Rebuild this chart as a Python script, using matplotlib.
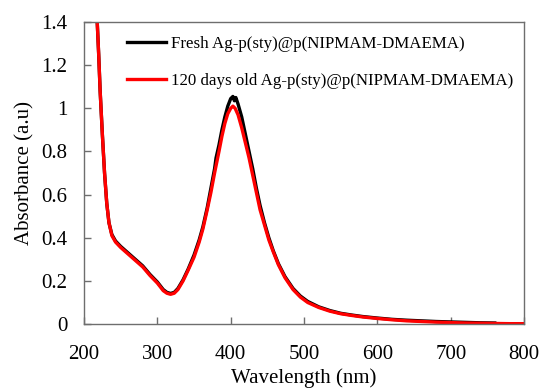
import numpy as np
import matplotlib.pyplot as plt

# UV-vis spectra of the Ag-p(sty)@p(NIPMAM-DMAEMA) dispersion
wl_fresh = [218, 220, 222, 225, 228, 231, 234, 238, 243, 250, 260, 270, 280,
            290, 300, 308, 313, 318, 323, 328, 335, 342, 350, 357, 362, 368,
            373, 378, 380, 384, 388, 392, 396, 400, 403, 405, 407, 410, 415,
            420, 425, 430, 435, 440, 446, 452, 458, 465, 474, 485, 495, 505,
            520, 535, 550, 565, 580, 600, 620, 640, 660, 680, 700, 720, 740,
            760]
abs_fresh = [1.40, 1.25, 1.08, 0.88, 0.70, 0.56, 0.47, 0.415, 0.385, 0.36,
             0.33, 0.30, 0.27, 0.23, 0.195, 0.16, 0.147, 0.142, 0.147, 0.165,
             0.205, 0.255, 0.32, 0.39, 0.45, 0.54, 0.63, 0.72, 0.77, 0.83,
             0.90, 0.96, 1.01, 1.045, 1.055, 1.035, 1.05, 1.02, 0.96, 0.88,
             0.80, 0.72, 0.63, 0.55, 0.47, 0.40, 0.34, 0.28, 0.22, 0.165, 0.13,
             0.105, 0.08, 0.063, 0.05, 0.042, 0.035, 0.028, 0.022, 0.018,
             0.015, 0.012, 0.01, 0.008, 0.006, 0.005]

wl_aged = [218, 220, 222, 225, 228, 231, 234, 238, 243, 250, 260, 270, 280,
           290, 300, 308, 313, 318, 323, 328, 335, 342, 350, 357, 362, 368,
           373, 378, 384, 388, 392, 396, 400, 403, 406, 410, 415, 420, 425,
           430, 435, 440, 446, 452, 458, 465, 474, 485, 495, 505, 520, 535,
           550, 565, 580, 600, 620, 640, 660, 680, 700, 720, 740, 760, 780,
           800]
abs_aged = [1.40, 1.25, 1.08, 0.88, 0.70, 0.56, 0.47, 0.41, 0.38, 0.355,
            0.325, 0.295, 0.265, 0.225, 0.19, 0.155, 0.143, 0.138, 0.143,
            0.16, 0.20, 0.25, 0.31, 0.38, 0.44, 0.53, 0.61, 0.70, 0.80, 0.87,
            0.93, 0.975, 1.0, 1.01, 1.0, 0.97, 0.91, 0.84, 0.77, 0.69, 0.61,
            0.53, 0.46, 0.39, 0.335, 0.275, 0.215, 0.16, 0.125, 0.1, 0.077,
            0.06, 0.048, 0.04, 0.033, 0.026, 0.02, 0.015, 0.012, 0.009,
            0.007, 0.005, 0.004, 0.003, 0.002, 0.002]

label_fresh = "Fresh Ag-p(sty)@p(NIPMAM-DMAEMA)"
label_aged = "120 days old Ag-p(sty)@p(NIPMAM-DMAEMA)"

plt.rcParams["font.family"] = ["Liberation Serif", "DejaVu Serif"]

fig = plt.figure(figsize=(5.42, 3.9), dpi=100)
ax = fig.add_axes([0.155, 0.169, 0.812, 0.7746])

ax.plot(wl_fresh, abs_fresh, color="black", lw=2.4, label=label_fresh)
ax.plot(wl_aged, abs_aged, color="#ff0000", lw=2.4, label=label_aged)

ax.set_xlim(200, 800)
ax.set_ylim(0, 1.4)
ax.set_xticks(np.arange(200, 801, 100))
ax.set_yticks(np.arange(0, 1.41, 0.2))
ax.set_yticklabels(["0", "0.2", "0.4", "0.6", "0.8", "1", "1.2", "1.4"])

for s in ax.spines.values():
    s.set_color("#6e6e6e")
    s.set_linewidth(1.0)
ax.tick_params(direction="in", length=5, width=1, color="#6e6e6e",
               labelsize=15, pad=12)
ax.tick_params(axis="x", pad=15)

ax.set_xlabel("Wavelength (nm)", fontsize=15, labelpad=3)
ax.set_ylabel("Absorbance (a.u)", fontsize=15, labelpad=5)

ax.legend(loc="upper left", bbox_to_anchor=(0.082, 0.975), frameon=False,
          fontsize=12.2, handlelength=2.3, handletextpad=0.3,
          labelspacing=1.2, borderaxespad=0)

fig.savefig("out.png", dpi=100)
